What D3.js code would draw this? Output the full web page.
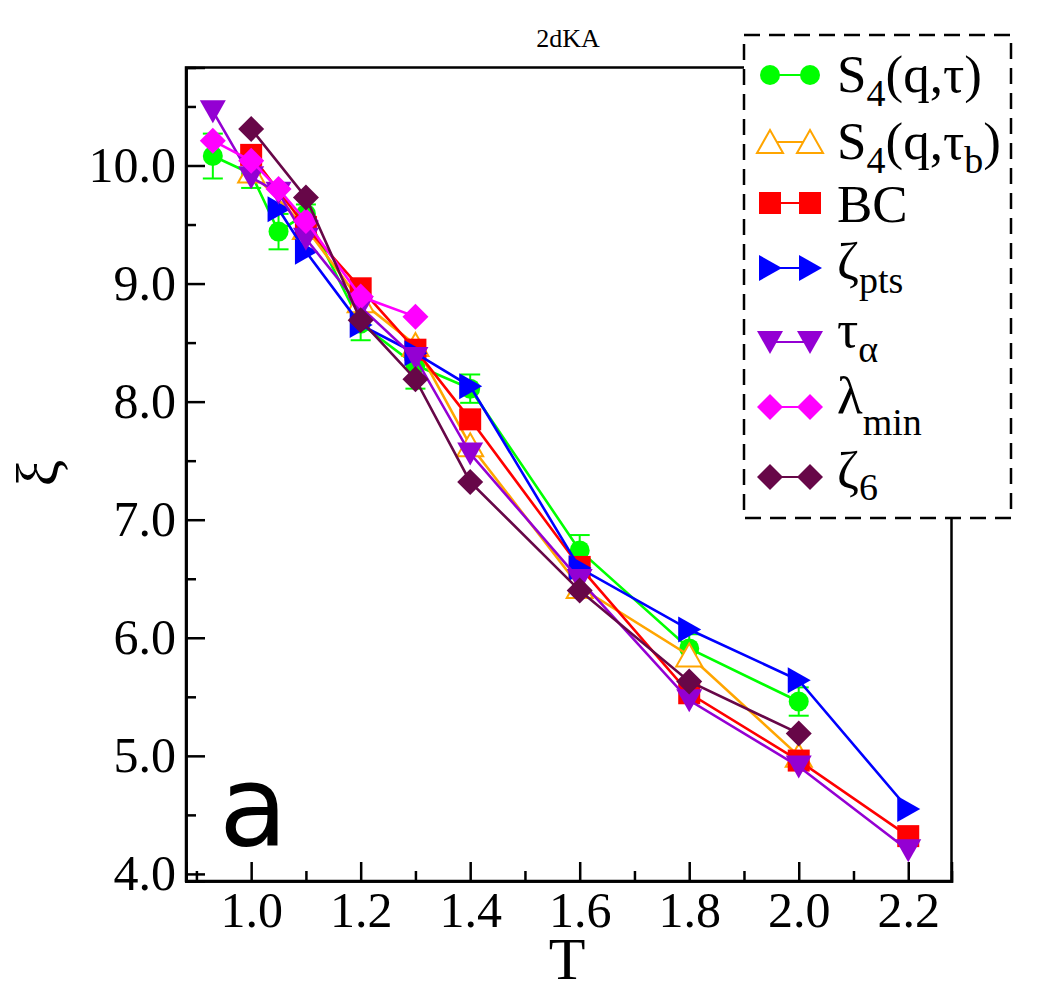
<!DOCTYPE html>
<html>
<head>
<meta charset="utf-8">
<script src="https://cdn.jsdelivr.net/npm/d3@7"></script>
<style>
  body { margin: 0; background: #fff; }
  text { font-family: "Liberation Serif", "Times New Roman", serif; }
</style>
</head>
<body>
<svg id="plot" width="1040" height="994"></svg>
<script>
// series data
var tGreen = [0.93, 1.0, 1.05, 1.1, 1.2, 1.3, 1.4, 1.6, 1.8, 2.0];
var xiGreen = [10.08, 9.93, 9.44, 9.59, 8.66, 8.31, 8.11, 6.74, 5.91, 5.46];
var errGreen = [0.19, 0.12, 0.15, 0.08, 0.14, 0.2, 0.12, 0.13, 0.12, 0.12];

var tOrange = [1.0, 1.1, 1.2, 1.3, 1.4, 1.6, 1.8, 2.0];
var xiOrange = [9.95, 9.47, 8.85, 8.48, 7.63, 6.43, 5.85, 5.00];

var tRed = [1.0, 1.1, 1.2, 1.3, 1.4, 1.6, 1.8, 2.0, 2.2];
var xiRed = [10.09, 9.48, 8.96, 8.44, 7.85, 6.60, 5.53, 4.96, 4.32];

var tBlue = [1.05, 1.1, 1.2, 1.3, 1.4, 1.6, 1.8, 2.0, 2.2];
var xiBlue = [9.63, 9.27, 8.65, 8.41, 8.13, 6.59, 6.07, 5.64, 4.55];

var tPurple = [0.93, 1.0, 1.05, 1.1, 1.2, 1.3, 1.4, 1.6, 1.8, 2.0, 2.2];
var xiPurple = [10.46, 9.90, 9.77, 9.38, 8.80, 8.37, 7.56, 6.49, 5.47, 4.91, 4.20];

var tMagenta = [0.93, 1.0, 1.05, 1.1, 1.2, 1.3];
var xiMagenta = [10.21, 10.04, 9.80, 9.53, 8.89, 8.72];

var tMaroon = [1.0, 1.1, 1.2, 1.3, 1.4, 1.6, 1.8, 2.0];
var xiMaroon = [10.31, 9.73, 8.69, 8.19, 7.32, 6.40, 5.63, 5.19];

var xTicks = [1.0, 1.2, 1.4, 1.6, 1.8, 2.0, 2.2];
var xMinor = [0.9, 1.1, 1.3, 1.5, 1.7, 1.9, 2.1];
var yTicks = [4, 5, 6, 7, 8, 9, 10];
var yMinor = [4.5, 5.5, 6.5, 7.5, 8.5, 9.5, 10.5];

var pLeft = 186, pRight = 951.5, pTop = 67.5, pBottom = 881;

var xs = d3.scaleLinear().domain([0.881, 2.279]).range([pLeft, pRight]);
var ys = d3.scaleLinear().domain([3.94, 10.83]).range([pBottom, pTop]);

var svg = d3.select('#plot');

// symbol shapes
function shape(kind) {
    if (kind == 'circle') return 'M10,0A10,10 0 1,1 -10,0A10,10 0 1,1 10,0Z';
    if (kind == 'square') return 'M-11,-11H11V11H-11Z';
    if (kind == 'up') return 'M0,-12L13,11L-13,11Z';
    if (kind == 'down') return 'M0,12L13,-11L-13,-11Z';
    if (kind == 'right') return 'M12,0L-11,-13L-11,13Z';
    return 'M0,-13L13,0L0,13L-13,0Z';
}

var series = [
    {t: tGreen, v: xiGreen, err: errGreen, color: '#00ff00', kind: 'circle', fill: '#00ff00'},
    {t: tOrange, v: xiOrange, color: '#ffa500', kind: 'up', fill: '#ffffff'},
    {t: tRed, v: xiRed, color: '#ff0000', kind: 'square', fill: '#ff0000'},
    {t: tBlue, v: xiBlue, color: '#0000ff', kind: 'right', fill: '#0000ff'},
    {t: tPurple, v: xiPurple, color: '#9400d3', kind: 'down', fill: '#9400d3'},
    {t: tMagenta, v: xiMagenta, color: '#ff00ff', kind: 'diamond', fill: '#ff00ff'},
    {t: tMaroon, v: xiMaroon, color: '#670748', kind: 'diamond', fill: '#670748'}
];

// frame
svg.append('rect')
    .attr('x', pLeft).attr('y', pTop)
    .attr('width', pRight - pLeft).attr('height', pBottom - pTop)
    .attr('fill', 'none').attr('stroke', '#000').attr('stroke-width', 2.5);

// axes, ticks inward
var fmt = d3.format('.1f');
svg.append('g').attr('transform', 'translate(0,' + pBottom + ')')
    .call(d3.axisBottom(xs).tickValues(xTicks).tickSize(-19).tickPadding(10).tickFormat(fmt));
svg.append('g').attr('transform', 'translate(0,' + pBottom + ')')
    .call(d3.axisBottom(xs).tickValues(xMinor).tickSize(-10).tickFormat(''));
svg.append('g').attr('transform', 'translate(' + pLeft + ',0)')
    .call(d3.axisLeft(ys).tickValues(yTicks).tickSize(-19).tickPadding(10).tickFormat(fmt));
svg.append('g').attr('transform', 'translate(' + pLeft + ',0)')
    .call(d3.axisLeft(ys).tickValues(yMinor).tickSize(-10).tickFormat(''));

svg.selectAll('.domain').attr('stroke-width', 2.5);
svg.selectAll('.tick line').attr('stroke-width', 2.5);
svg.selectAll('.tick text')
    .style('font-family', '"Liberation Serif", serif')
    .style('font-size', '50px')
    .attr('fill', '#000');

// series
series.forEach(function(s) {
    var pts = s.t.map(function(t, i) { return {t: t, v: s.v[i], e: s.err ? s.err[i] : 0}; });
    var g = svg.append('g');
    g.append('path')
        .datum(pts)
        .attr('fill', 'none')
        .attr('stroke', s.color)
        .attr('stroke-width', 2.6)
        .attr('d', d3.line().x(function(d) { return xs(d.t); }).y(function(d) { return ys(d.v); }));
    if (s.err) {
        var eb = g.selectAll('.eb').data(pts).enter().append('g')
            .attr('stroke', s.color).attr('stroke-width', 2);
        eb.append('line')
            .attr('x1', function(d) { return xs(d.t); }).attr('x2', function(d) { return xs(d.t); })
            .attr('y1', function(d) { return ys(d.v - d.e); }).attr('y2', function(d) { return ys(d.v + d.e); });
        eb.append('line')
            .attr('x1', function(d) { return xs(d.t) - 10; }).attr('x2', function(d) { return xs(d.t) + 10; })
            .attr('y1', function(d) { return ys(d.v - d.e); }).attr('y2', function(d) { return ys(d.v - d.e); });
        eb.append('line')
            .attr('x1', function(d) { return xs(d.t) - 10; }).attr('x2', function(d) { return xs(d.t) + 10; })
            .attr('y1', function(d) { return ys(d.v + d.e); }).attr('y2', function(d) { return ys(d.v + d.e); });
    }
    g.selectAll('.sym').data(pts).enter().append('path')
        .attr('transform', function(d) { return 'translate(' + xs(d.t) + ',' + ys(d.v) + ')'; })
        .attr('d', shape(s.kind))
        .attr('fill', s.fill)
        .attr('stroke', s.kind == 'up' ? s.color : 'none')
        .attr('stroke-width', 2);
});

// legend
var leg = [
    {main: 'S', sub: '4', rest: '(q,τ)', y: 75, base: 92, dy: 14},
    {main: 'S', sub: '4', rest: '(q,τ', sub2: 'b', end: ')', y: 142, base: 159, dy: 14},
    {main: 'BC', y: 203, base: 222},
    {main: 'ζ', sub: 'pts', y: 268, base: 279, dy: 14},
    {main: 'τ', sub: 'α', y: 342, base: 347, dy: 15},
    {main: 'λ', sub: 'min', y: 407, base: 413, dy: 22},
    {main: 'ζ', sub: '6', y: 477, base: 488, dy: 12}
];

svg.append('rect')
    .attr('x', 744).attr('y', 35).attr('width', 267).attr('height', 483)
    .attr('fill', '#fff').attr('stroke', '#000').attr('stroke-width', 2.5)
    .attr('stroke-dasharray', '16,9');

leg.forEach(function(l, i) {
    var s = series[i];
    var g = svg.append('g');
    g.append('line').attr('x1', 770).attr('x2', 810).attr('y1', l.y).attr('y2', l.y)
        .attr('stroke', s.color).attr('stroke-width', 2);
    [770, 810].forEach(function(x) {
        g.append('path').attr('transform', 'translate(' + x + ',' + l.y + ')')
            .attr('d', shape(s.kind))
            .attr('fill', s.fill)
            .attr('stroke', s.kind == 'up' ? s.color : 'none')
            .attr('stroke-width', 2);
    });
    var t = g.append('text').attr('x', 837).attr('y', l.base).style('font-size', '53px');
    t.append('tspan').text(l.main);
    if (l.sub) {
        t.append('tspan').attr('dy', l.dy).style('font-size', '38px').text(l.sub);
    }
    if (l.rest) {
        t.append('tspan').attr('dy', -l.dy).text(l.rest);
    }
    if (l.sub2) {
        t.append('tspan').attr('dy', l.dy).style('font-size', '38px').text(l.sub2);
        t.append('tspan').attr('dy', -l.dy).text(l.end);
    }
});

// labels
svg.append('text').attr('x', 568).attr('y', 47)
    .attr('text-anchor', 'middle').style('font-size', '26px').text('2dKA');

svg.append('text').attr('x', 567).attr('y', 979)
    .attr('text-anchor', 'middle').style('font-size', '60px').text('T');

svg.append('text').attr('transform', 'translate(58,473) rotate(-90)')
    .attr('text-anchor', 'middle').style('font-size', '60px').text('ξ');

svg.append('text').attr('x', 219).attr('y', 845)
    .style('font-family', '"DejaVu Sans", sans-serif').style('font-size', '112px').text('a');
</script>
</body>
</html>
